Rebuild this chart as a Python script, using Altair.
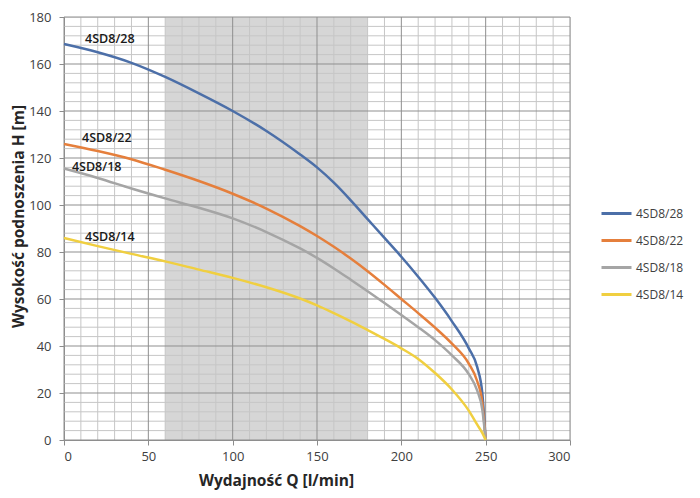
import altair as alt
import pandas as pd

# ---- data ----
series_names = ["4SD8/28", "4SD8/22", "4SD8/18", "4SD8/14"]
series_colors = ["#4C6FA8", "#E57F3C", "#A5A5A5", "#F0CF40"]

q_points = [0, 20, 40, 60, 80, 100, 120, 140, 150, 160, 170, 180, 190, 200,
            210, 220, 230, 240, 245, 248, 250]
h_28 = [168.5, 165.0, 160.5, 154.5, 147.5, 140.0, 131.5, 121.5, 116.0, 109.5,
        102.0, 94.0, 86.0, 78.0, 69.5, 60.5, 50.5, 39.0, 31.0, 20.0, 0.0]
h_22 = [126.0, 123.0, 119.5, 115.0, 110.2, 104.8, 98.5, 91.0, 86.8, 82.2,
        77.2, 71.8, 66.0, 60.0, 54.0, 47.8, 41.0, 32.5, 25.0, 16.0, 0.0]
h_18 = [115.5, 111.5, 107.0, 102.8, 98.8, 94.3, 88.5, 81.5, 77.5, 73.0,
        68.2, 63.3, 58.3, 53.2, 48.0, 42.5, 36.0, 28.0, 21.0, 13.0, 0.0]
h_14 = [86.0, 82.5, 79.2, 76.0, 72.5, 69.0, 65.0, 60.2, 57.3, 54.0,
        50.5, 46.8, 43.0, 39.0, 34.5, 28.5, 21.5, 12.5, 6.5, 3.0, 0.0]

label_q = [12.5, 10.7, 4.7, 12.5]
label_h = [170.6, 128.6, 116.3, 86.2]

band_start = [60]
band_end = [180]

x_ticks = [0, 50, 100, 150, 200, 250, 300]
y_ticks = [0, 20, 40, 60, 80, 100, 120, 140, 160, 180]
x_minor = list(range(0, 301, 10))
y_minor = list(range(0, 181, 4))
x_lo, x_hi = 0, 300
y_lo, y_hi = 0, 180

# ---- tables ----
rows = []
for name, hs in zip(series_names, [h_28, h_22, h_18, h_14]):
    for q, h in zip(q_points, hs):
        rows.append({"series": name, "Q": q, "H": h})
curves = pd.DataFrame(rows)
labels = pd.DataFrame({"series": series_names, "Q": label_q, "H": label_h})
band = pd.DataFrame({"x0": band_start, "x1": band_end, "y0": [y_lo], "y1": [y_hi]})

grid_rows = []
for v in x_minor:
    grid_rows.append({"kind": "major" if v in x_ticks else "minor",
                      "gx0": v, "gx1": v, "gy0": y_lo, "gy1": y_hi})
for v in y_minor:
    grid_rows.append({"kind": "major" if v in y_ticks else "minor",
                      "gx0": x_lo, "gx1": x_hi, "gy0": v, "gy1": v})
grid = pd.DataFrame(grid_rows)
grid_minor = grid[grid["kind"] == "minor"]
grid_major = grid[grid["kind"] == "major"]

FONT = "Open Sans"
xscale = alt.Scale(domain=[x_lo, x_hi], nice=False, zero=False)
yscale = alt.Scale(domain=[y_lo, y_hi], nice=False, zero=False)

x_axis = alt.Axis(values=x_ticks, grid=False, tickColor="#8c8c8c", tickSize=5,
                  domainColor="#8c8c8c", labelFontSize=13, labelColor="#404040",
                  labelPadding=5, labelFont=FONT,
                  title="Wydajność Q [l/min]", titleFont=FONT, titleFontSize=15.5,
                  titleFontWeight="bold", titleColor="#262626",
                  titleX=212, titleY=40, titleBaseline="middle",
                  titleAlign="center")
y_axis = alt.Axis(values=y_ticks, grid=False, tickColor="#8c8c8c", tickSize=5,
                  domainColor="#8c8c8c", labelFontSize=13, labelColor="#404040",
                  labelPadding=8, labelFont=FONT,
                  title="Wysokość podnoszenia H [m]", titleFont=FONT, titleFontSize=15.5,
                  titleFontWeight="bold", titleColor="#262626",
                  titleX=-46, titleY=199, titleBaseline="middle", titleAlign="center",
                  titleAngle=270)

band_layer = alt.Chart(band).mark_rect(color="#d6d6d6").encode(
    x=alt.X("x0:Q", scale=xscale, axis=x_axis),
    x2="x1:Q",
    y=alt.Y("y0:Q", scale=yscale, axis=y_axis),
    y2="y1:Q",
)

gmin = alt.Chart(grid_minor).mark_rule(color="#c6c6c6", strokeWidth=1).encode(
    x=alt.X("gx0:Q", scale=xscale), x2="gx1:Q",
    y=alt.Y("gy0:Q", scale=yscale), y2="gy1:Q")
gmaj = alt.Chart(grid_major).mark_rule(color="#8f8f8f", strokeWidth=1).encode(
    x=alt.X("gx0:Q", scale=xscale), x2="gx1:Q",
    y=alt.Y("gy0:Q", scale=yscale), y2="gy1:Q")

lines = alt.Chart(curves).mark_line(strokeWidth=2.5, interpolate="monotone").encode(
    x=alt.X("Q:Q", scale=xscale),
    y=alt.Y("H:Q", scale=yscale),
    color=alt.Color("series:N",
                    scale=alt.Scale(domain=series_names, range=series_colors),
                    sort=series_names,
                    legend=alt.Legend(title=None, orient="none", legendX=536,
                                      legendY=180, symbolType="stroke",
                                      symbolStrokeWidth=3, symbolSize=900,
                                      labelFontSize=12, labelFont=FONT,
                                      labelColor="#404040", rowPadding=4,
                                      labelOffset=3)),
    detail="series:N",
)

texts = alt.Chart(labels).mark_text(align="left", baseline="middle", fontSize=12.5,
                                    fontWeight=600, font=FONT,
                                    color="#1a1a1a").encode(
    x=alt.X("Q:Q", scale=xscale),
    y=alt.Y("H:Q", scale=yscale),
    text="series:N",
)

chart = alt.layer(band_layer, gmin, gmaj, lines, texts).properties(
    width=506, height=423,
    autosize=alt.AutoSizeParams(type="none"),
    padding={"left": 56, "top": 9, "right": 122, "bottom": 50},
).configure_view(stroke=None).configure(background="white")

chart.save("out.html", embed_options={"renderer": "svg", "actions": False})
